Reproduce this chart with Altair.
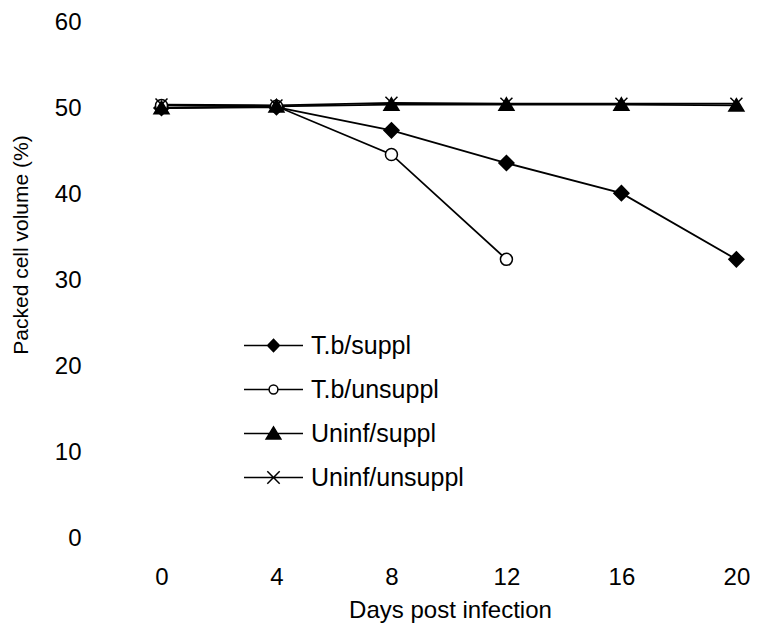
import altair as alt
import pandas as pd

# ---- data ----
days = [0, 4, 8, 12, 16, 20]
series_names = ["T.b/suppl", "T.b/unsuppl", "Uninf/suppl", "Uninf/unsuppl"]
tb_suppl = [50.0, 50.1, 47.4, 43.6, 40.1, 32.4]
tb_unsuppl = [50.3, 50.2, 44.6, 32.4]
uninf_suppl = [50.0, 50.2, 50.4, 50.4, 50.4, 50.3]
uninf_unsuppl = [50.4, 50.3, 50.6, 50.5, 50.5, 50.5]
y_ticks = [0, 10, 20, 30, 40, 50, 60]

rows = []
for name, vals in zip(series_names, [tb_suppl, tb_unsuppl, uninf_suppl, uninf_unsuppl]):
    for d, v in zip(days, vals):
        rows.append({"day": d, "pcv": v, "series": name})
df = pd.DataFrame(rows)

# ---- styling ----
FONT = "Liberation Sans"
marker_paths = [
    "M0,-1L1,0L0,1L-1,0Z",
    "M0.8,0A0.8,0.8 0 1,1 -0.8,0A0.8,0.8 0 1,1 0.8,0Z",
    "M0,-0.9L1,0.75L-1,0.75Z",
    "M-0.8,-0.8L0.8,0.8M-0.8,0.8L0.8,-0.8",
]
legend_paths = [
    "M-2,0L2,0M0,-0.42L0.4,0L0,0.42L-0.4,0Z",
    "M-2,0L-0.3,0M0.3,0L2,0M0.3,0A0.3,0.3 0 1,1 -0.3,0A0.3,0.3 0 1,1 0.3,0Z",
    "M-2,0L2,0M0,-0.45L0.5,0.38L-0.5,0.38Z",
    "M-2,0L2,0M-0.42,-0.42L0.42,0.42M-0.42,0.42L0.42,-0.42",
]
fills = ["black", "white", "black", "transparent"]
strokes = ["black", "black", "black", "black"]

x = alt.X(
    "day:Q",
    scale=alt.Scale(domain=[-2, 20.3], nice=False, zero=False),
    axis=alt.Axis(
        values=days, title="Days post infection", grid=False, domain=False,
        ticks=False, tickSize=0, labelFlush=False, labelFontSize=24,
        labelPadding=39, labelBaseline="middle", labelColor="black", labelFont=FONT,
        titleFontSize=24, titleFontWeight="normal", titleColor="black", titleFont=FONT,
        titleX=346, titleY=72, titleBaseline="middle", titleAlign="center",
    ),
)
y = alt.Y(
    "pcv:Q",
    scale=alt.Scale(domain=[0, 60], nice=False, zero=True),
    axis=alt.Axis(
        values=y_ticks, title="Packed cell volume (%)", grid=False, domain=False,
        ticks=False, tickSize=0, labelFontSize=24, labelPadding=23,
        labelBaseline="middle", labelColor="black", labelFont=FONT,
        titleFontSize=21, titleFontWeight="normal", titleColor="black", titleFont=FONT,
        titleX=-83, titleY=222.5, titleBaseline="middle", titleAlign="center",
    ),
)

base = alt.Chart(df)

lines = base.mark_line(color="black", strokeWidth=1.8).encode(
    x=x, y=y, detail="series:N"
)

points = base.mark_point(stroke="black", strokeWidth=1.5, size=225, opacity=1).encode(
    x=x, y=y,
    shape=alt.Shape("series:N", scale=alt.Scale(domain=series_names, range=marker_paths), legend=None),
    fill=alt.Fill("series:N", scale=alt.Scale(domain=series_names, range=fills), legend=None),
)

leg = alt.Legend(
    orient="none", legendX=154, legendY=308, title=None, padding=0,
    symbolSize=870, symbolStrokeWidth=1.5, symbolOpacity=1, symbolStrokeColor="black",
    labelFontSize=25, labelFont=FONT, labelColor="black", labelOffset=22,
    rowPadding=15,
)
legend_layer = base.mark_point(opacity=0, strokeWidth=1.5).encode(
    x=x, y=y,
    shape=alt.Shape("series:N", scale=alt.Scale(domain=series_names, range=legend_paths), legend=leg),
    fill=alt.Fill("series:N", scale=alt.Scale(domain=series_names, range=fills), legend=leg),
    stroke=alt.Stroke("series:N", scale=alt.Scale(domain=series_names, range=strokes), legend=leg),
)

chart = (
    alt.layer(lines, points, legend_layer)
    .resolve_scale(shape="independent", fill="independent", stroke="independent")
    .properties(
        width=641, height=516,
        padding={"left": 96, "top": 14, "right": 5, "bottom": 90},
        autosize=alt.AutoSizeParams(type="none"),
        background="white",
    )
    .configure_view(stroke=None)
)

chart.save("out.html", embed_options={"renderer": "svg", "actions": False})
